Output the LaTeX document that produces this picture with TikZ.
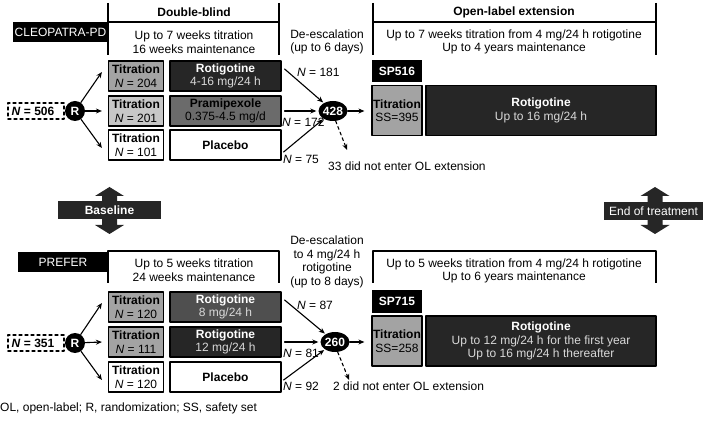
\documentclass[tikz,border=0pt]{standalone}
\usepackage{fontspec}
\setmainfont{Liberation Sans}
\usetikzlibrary{arrows.meta, calc, shapes.geometric}

\definecolor{boxdark}{gray}{0.15}
\definecolor{boxmid}{gray}{0.42}
\definecolor{boxdim}{gray}{0.31}
\definecolor{boxgray}{gray}{0.64}
\definecolor{boxlight}{gray}{0.78}
\definecolor{subgray}{gray}{0.85}

\begin{document}
\begin{tikzpicture}[x=1pt, y=-1pt, >=Stealth, line cap=round, line join=round,
    every node/.style={font=\fontsize{12}{13.5}\selectfont, inner sep=0pt, align=center},
    tagbox/.style={fill=black, text=white, minimum height=20},
    titbox/.style={draw, line width=1.2pt, minimum width=55, minimum height=30},
    drugbox/.style={draw, line width=1.2pt, minimum width=111, minimum height=30},
    olbox/.style={draw, line width=1.2pt, minimum height=50},
    nbox/.style={draw, dashed, line width=1.2pt, minimum width=56, minimum height=16},
    rnode/.style={circle, fill=black, text=white, minimum size=20},
    pool/.style={ellipse, fill=black, text=white, minimum width=29, minimum height=20},
    arr/.style={->, line width=1.1pt, >={Stealth[length=6pt,width=5pt]}},
    hline/.style={line width=1.1pt, line cap=butt}]
    \useasboundingbox (0,0) rectangle (709,427);

    % ---------------- CLEOPATRA-PD
    \node[tagbox, minimum width=95] (cleo) at (60.5,32) {CLEOPATRA-PD};
    \draw[hline] (108,3) -- (108,55) (108,22) -- (279,22) (279,3) -- (279,55);
    \node (dbhead) at (194,12) {\textbf{Double-blind}};
    \node (dbtext) at (194,42) {Up to 7 weeks titration\\16 weeks maintenance};
    \node (desc1) at (327,42) {De-escalation\\(up to 6 days)};
    \draw[hline] (373,3) -- (373,55) (373,22) -- (656,22) (656,3) -- (656,55);
    \node (olhead) at (514,12) {\textbf{Open-label extension}};
    \node (oltext) at (514,42) {Up to 7 weeks titration from 4 mg/24 h rotigotine\\Up to 4 years maintenance};

    \node[nbox] (n1) at (36,111) {\textbf{\textit{N} = 506}\hspace*{6pt}};
    \node[rnode] (r1) at (75,111) {\textbf{R}};

    \node[titbox, fill=boxgray] (t1) at (136,76) {\textbf{Titration}\\\textit{N} = 204};
    \node[titbox, fill=boxlight] (t2) at (136,111) {\textbf{Titration}\\\textit{N} = 201};
    \node[titbox, fill=white] (t3) at (136,145) {\textbf{Titration}\\\textit{N} = 101};
    \node[drugbox, fill=boxdark, text=white] (d1) at (225.5,76) {\textbf{Rotigotine}\\\textcolor{subgray}{4-16 mg/24 h}};
    \node[drugbox, fill=boxmid] (d2) at (225.5,111) {\textbf{Pramipexole}\\0.375-4.5 mg/d};
    \node[drugbox, fill=white] (d3) at (225.5,145) {\textbf{Placebo}};

    \draw[arr] (r1) -- ([xshift=-6pt,yshift=4pt]t1.west);
    \draw[arr] (r1) -- ([xshift=-6pt]t2.west);
    \draw[arr] (r1) -- ([xshift=-6pt,yshift=-3pt]t3.west);

    \node[pool] (e1) at (333,111) {\textbf{428}};
    \draw[arr, shorten >=1pt] ([xshift=3pt,yshift=7pt]d1.east) -- (e1);
    \draw[arr, shorten >=2pt] ([xshift=3pt]d2.east) -- (e1.west);
    \draw[arr, shorten >=1pt] ([xshift=2pt,yshift=-7pt]d3.east) -- (e1);
    \node[anchor=west] (k1) at (297,72) {\textit{N} = 181};
    \node[anchor=west] (k2) at (282,122) {\textit{N} = 172};
    \node[anchor=west] (k3) at (283,159) {\textit{N} = 75};
    \coordinate (x1) at (347,150);
    \draw[arr, dashed] (e1.-75) -- (x1);
    \node[anchor=west] (drop1) at (328,166) {33 did not enter OL extension};

    \node[tagbox, minimum width=50, minimum height=22] (sp1) at (397,71) {\textbf{SP516}};
    \node[olbox, fill=boxgray, minimum width=50] (ss1) at (397,110.5) {\textbf{Titration}\\SS=395};
    \node[olbox, fill=boxdark, text=white, minimum width=230] (ol1) at (541,110.5) {\textbf{Rotigotine}\\\textcolor{subgray}{Up to 16 mg/24 h}};
    \draw[arr, shorten >=7pt] (e1.east) -- (e1 -| ss1.west);

    % ---------------- Baseline / End of treatment
    \foreach \ax in {109.5, 655}
        \fill[boxdark] (\ax-7.5,196) -- (\ax-14.5,196) -- (\ax,187) -- (\ax+14.5,196) -- (\ax+7.5,196)
            -- (\ax+7.5,225) -- (\ax+14.5,225) -- (\ax,234) -- (\ax-14.5,225) -- (\ax-7.5,225) -- cycle;
    \node[fill=boxdark, text=white, minimum width=103, minimum height=18] (base) at (109.5,210) {\textbf{Baseline}};
    \node[fill=boxdark, text=white, minimum width=99, minimum height=18] (eot) at (653.5,211) {End of treatment};

    % ---------------- PREFER
    \node[tagbox, minimum width=90] (prefer) at (63,262) {PREFER};
    \draw[hline] (108,283) -- (108,251) -- (279,251) -- (279,283);
    \node (dbtext2) at (194,270) {Up to 5 weeks titration\\24 weeks maintenance};
    \node (desc2) at (327,262) {De-escalation\\to 4 mg/24 h\\rotigotine\\(up to 8 days)};
    \draw[hline] (373,283) -- (373,251) -- (656,251) -- (656,283);
    \node (oltext2) at (514,271) {Up to 5 weeks titration from 4 mg/24 h rotigotine\\Up to 6 years maintenance};

    \node[nbox] (n2) at (36,343) {\textbf{\textit{N} = 351}\hspace*{6pt}};
    \node[rnode] (r2) at (75,343) {\textbf{R}};

    \node[titbox, fill=boxgray] (t4) at (136,307) {\textbf{Titration}\\\textit{N} = 120};
    \node[titbox, fill=boxgray] (t5) at (136,342) {\textbf{Titration}\\\textit{N} = 111};
    \node[titbox, fill=white] (t6) at (136,377) {\textbf{Titration}\\\textit{N} = 120};
    \node[drugbox, fill=boxdim, text=white] (d4) at (225.5,307) {\textbf{Rotigotine}\\\textcolor{subgray}{8 mg/24 h}};
    \node[drugbox, fill=boxdark, text=white] (d5) at (225.5,342) {\textbf{Rotigotine}\\\textcolor{subgray}{12 mg/24 h}};
    \node[drugbox, fill=white] (d6) at (225.5,377) {\textbf{Placebo}};

    \draw[arr] (r2) -- ([xshift=-6pt,yshift=4pt]t4.west);
    \draw[arr] (r2) -- ([xshift=-6pt]t5.west);
    \draw[arr] (r2) -- ([xshift=-6pt,yshift=-3pt]t6.west);

    \node[pool] (e2) at (335,342) {\textbf{260}};
    \draw[arr, shorten >=1pt] ([xshift=3pt,yshift=7pt]d4.east) -- (e2);
    \draw[arr, shorten >=2pt] ([xshift=3pt]d5.east) -- (e2.west);
    \draw[arr, shorten >=1pt] ([xshift=2pt,yshift=-3pt]d6.east) -- (e2);
    \node[anchor=west] (k4) at (297,305) {\textit{N} = 87};
    \node[anchor=west] (k5) at (283,353) {\textit{N} = 81};
    \node[anchor=west] (k6) at (283,386) {\textit{N} = 92};
    \coordinate (x2) at (349,380);
    \draw[arr, dashed] (e2.-75) -- (x2);
    \node[anchor=west] (drop2) at (333,386) {2 did not enter OL extension};

    \node[tagbox, minimum width=50, minimum height=23] (sp2) at (397,301.5) {\textbf{SP715}};
    \node[olbox, fill=boxgray, minimum width=50] (ss2) at (397,341) {\textbf{Titration}\\SS=258};
    \node[olbox, fill=boxdark, text=white, minimum width=230] (ol2) at (541,341) {\textbf{Rotigotine}\\\textcolor{subgray}{Up to 12 mg/24 h for the first year}\\\textcolor{subgray}{Up to 16 mg/24 h thereafter}};
    \draw[arr, shorten >=7pt] (e2.east) -- (e2 -| ss2.west);

    \node[anchor=west] (foot) at (0,408) {OL, open-label; R, randomization; SS, safety set};
\end{tikzpicture}
\end{document}
